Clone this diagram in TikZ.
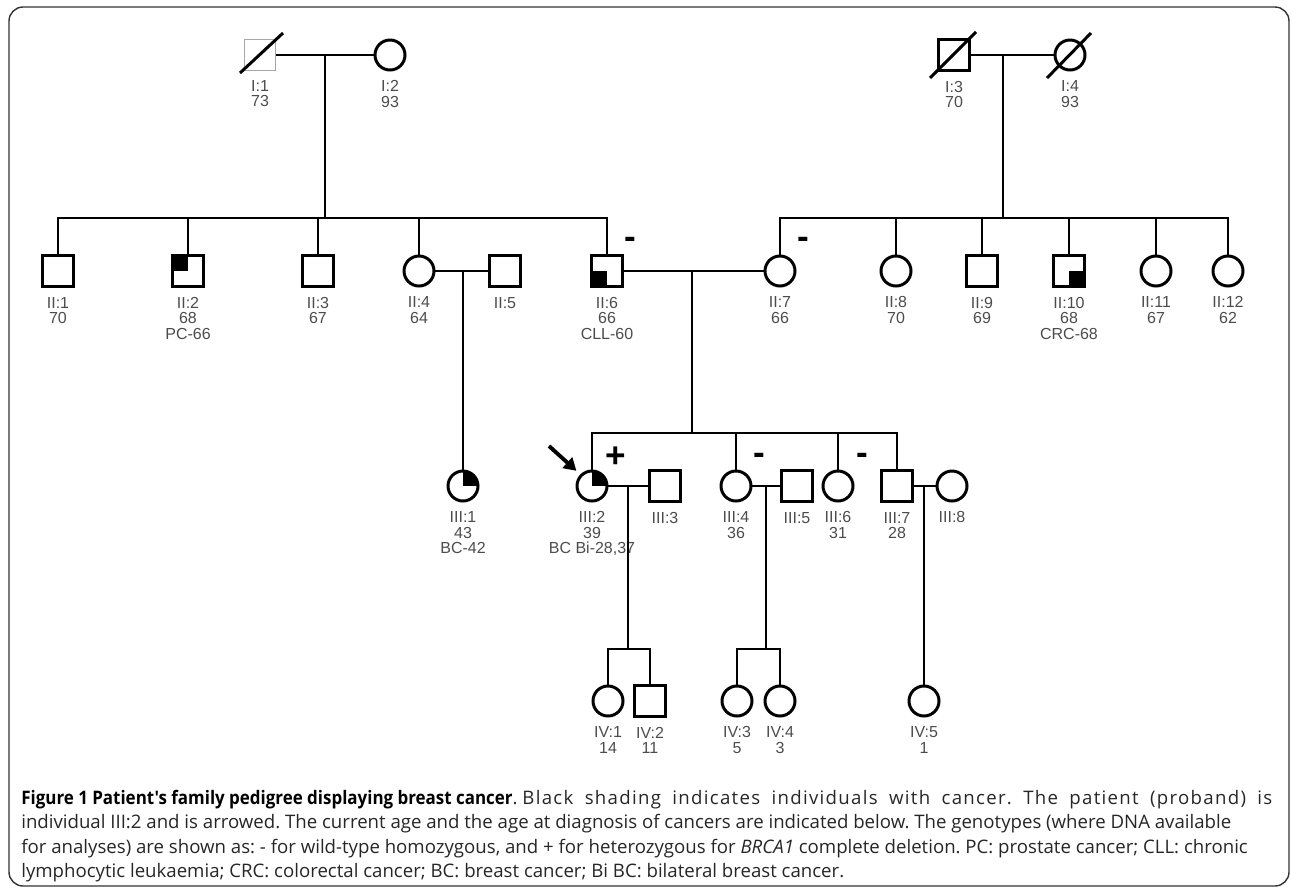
\documentclass[tikz,border=0pt]{standalone}
\usepackage{fontspec}
\setmainfont{Liberation Sans}
\newfontfamily\capfont{Open Sans}[BoldFeatures={FakeStretch=0.91}]
\usetikzlibrary{positioning,calc,arrows.meta}
\tikzset{
	male/.style ={rectangle, draw, line width=1.7pt, minimum size=0.62cm, inner sep=0pt},
	female/.style ={circle, draw, line width=1.7pt, minimum size=0.6cm, inner sep=0pt},
	faint/.style = {draw=black!35, line width=0.6pt},
	lab/.style = {font=\fontsize{9.1}{8.8}\selectfont, text=black!70, align=center, inner sep=0pt},
	qTL/.style = {path picture={\fill (path picture bounding box.north west) rectangle (path picture bounding box.center);}},
	qBL/.style = {path picture={\fill (path picture bounding box.south west) rectangle (path picture bounding box.center);}},
	qBR/.style = {path picture={\fill (path picture bounding box.south east) rectangle (path picture bounding box.center);}},
	qTR/.style = {path picture={\fill (path picture bounding box.north east) rectangle (path picture bounding box.center);}}
}
\begin{document}
\begin{tikzpicture}[x=0.02cm, y=-0.02cm, line width=1.5pt,
	every label/.style={lab, label distance=0.16cm}]
	\tikzstyle{geno} = [font=\bfseries\fontsize{20}{20}\selectfont, inner sep=0pt]
	\tikzstyle{slash} = [line width=1.7pt]
	\tikzstyle{probarrow} = [-{Triangle[length=7pt,width=8pt]}, line width=2.2pt, shorten >=3pt]
	\tikzstyle{caption} = [anchor=north west, align=left, inner sep=0pt, text=black!85,
	font=\capfont\fontsize{10.6}{13.8}\selectfont\frenchspacing]
	\useasboundingbox (0,0) rectangle (1292,890);
	\draw[line width=0.8pt, black!80, rounded corners=8pt] (9,7) rectangle (1289,886);
	% generation I
	\node[male, faint, label=below:{I:1\\73}] (i1) at (260,55) {};
	\node[female, label=below:{I:2\\93}] (i2) at (390,55) {};
	\node[male, label=below:{I:3\\70}] (i3) at (954,55) {};
	\node[female, label=below:{I:4\\93}] (i4) at (1070,55) {};
	\draw[slash] ([shift={(-20,18)}]i1.center) -- ([shift={(23,-22)}]i1.center);
	\draw[slash] ([shift={(-24,23)}]i3.center) -- ([shift={(22,-23)}]i3.center);
	\draw[slash] ([shift={(-23,23)}]i4.center) -- ([shift={(21,-22)}]i4.center);
	% generation II
	\node[male, label=below:{II:1\\70}] (ii1) at (58,271) {};
	\node[male, qTL, label=below:{II:2\\68\\PC-66}] (ii2) at (188,271) {};
	\node[male, label=below:{II:3\\67}] (ii3) at (318,271) {};
	\node[female, label=below:{II:4\\64}] (ii4) at (419,271) {};
	\node[male, label=below:{II:5}] (ii5) at (505,271) {};
	\node[male, qBL, label=below:{II:6\\66\\CLL-60}] (ii6) at (607,271) {};
	\node[female, label=below:{II:7\\66}] (ii7) at (780,271) {};
	\node[female, label=below:{II:8\\70}] (ii8) at (896,271) {};
	\node[male, label=below:{II:9\\69}] (ii9) at (982,271) {};
	\node[male, qBR, label=below:{II:10\\68\\CRC-68}] (ii10) at (1069,271) {};
	\node[female, label=below:{II:11\\67}] (ii11) at (1156,271) {};
	\node[female, label=below:{II:12\\62}] (ii12) at (1228,271) {};
	% generation III
	\node[female, qTR, label=below:{III:1\\43\\BC-42}] (iii1) at (463,486) {};
	\node[female, qTR, label=below:{III:2\\39\\BC Bi-28,37}] (iii2) at (592,486) {};
	\node[male, label=below:{III:3}] (iii3) at (665,486) {};
	\node[female, label=below:{III:4\\36}] (iii4) at (736,486) {};
	\node[male, label=below:{III:5}] (iii5) at (797,486) {};
	\node[female, label=below:{III:6\\31}] (iii6) at (838,486) {};
	\node[male, label=below:{III:7\\28}] (iii7) at (897,486) {};
	\node[female, label=below:{III:8}] (iii8) at (952,486) {};
	% generation IV
	\node[female, label=below:{IV:1\\14}] (iv1) at (608,701) {};
	\node[male, label=below:{IV:2\\11}] (iv2) at (650,701) {};
	\node[female, label=below:{IV:3\\5}] (iv3) at (737,701) {};
	\node[female, label=below:{IV:4\\3}] (iv4) at (780,701) {};
	\node[female, label=below:{IV:5\\1}] (iv5) at (924,701) {};
	% genotypes
	\node[geno] (g6) at (630,243) {-};
	\node[geno] (g7) at (803,243) {-};
	\node[geno] (g32) at (616,457) {+};
	\node[geno] (g34) at (759,459) {-};
	\node[geno] (g36) at (862,459) {-};
	% junctions
	\coordinate (m12) at (325,55);
	\coordinate (s1) at (325,218);
	\coordinate (m34) at (1003,55);
	\coordinate (s2) at (1003,218);
	\coordinate (m45) at (463,271);
	\coordinate (m67) at (692,271);
	\coordinate (s3) at (692,433);
	\coordinate (m23) at (628,486);
	\coordinate (s4) at (628,649);
	\coordinate (mIIIb) at (766,486);
	\coordinate (s5) at (766,649);
	\coordinate (m78) at (924,486);
	\coordinate (prob) at (549,446);
	% lines
	\draw (i1) -- (i2);
	\draw (m12) -- (s1);
	\draw (ii1) |- (s1) -| (ii6);
	\draw (ii2) -- (ii2 |- s1);
	\draw (ii3) -- (ii3 |- s1);
	\draw (ii4) -- (ii4 |- s1);
	\draw (i3) -- (i4);
	\draw (m34) -- (s2);
	\draw (ii7) |- (s2) -| (ii12);
	\draw (ii8) -- (ii8 |- s2);
	\draw (ii9) -- (ii9 |- s2);
	\draw (ii10) -- (ii10 |- s2);
	\draw (ii11) -- (ii11 |- s2);
	\draw (ii4) -- (ii5);
	\draw (m45) -- (iii1);
	\draw (ii6) -- (ii7);
	\draw (m67) -- (s3);
	\draw (iii2) |- (s3) -| (iii7);
	\draw (iii4) -- (iii4 |- s3);
	\draw (iii6) -- (iii6 |- s3);
	\draw (iii2) -- (iii3);
	\draw (m23) -- (s4);
	\draw (iv1) |- (s4) -| (iv2);
	\draw (iii4) -- (iii5);
	\draw (mIIIb) -- (s5);
	\draw (iv3) |- (s5) -| (iv4);
	\draw (iii7) -- (iii8);
	\draw (m78) -- (iv5);
	\draw[probarrow] (prob) -- (iii2.135);
	% caption
	\node[caption] (cap) at (20,789) {\textcolor{black}{\textbf{Figure 1 Patient's family pedigree displaying breast cancer}}. \makebox[15.0cm][s]{\addfontfeature{LetterSpace=7}Black shading indicates individuals with cancer. The patient (proband) is}\\
	individual III:2 and is arrowed. The current age and the age at diagnosis of cancers are indicated below. The genotypes (where DNA available\\
	for analyses) are shown as: - for wild-type homozygous, and + for heterozygous for \textit{BRCA1} complete deletion. PC: prostate cancer; CLL: chronic\\
	lymphocytic leukaemia; CRC: colorectal cancer; BC: breast cancer; Bi BC: bilateral breast cancer.};
\end{tikzpicture}
\end{document}
